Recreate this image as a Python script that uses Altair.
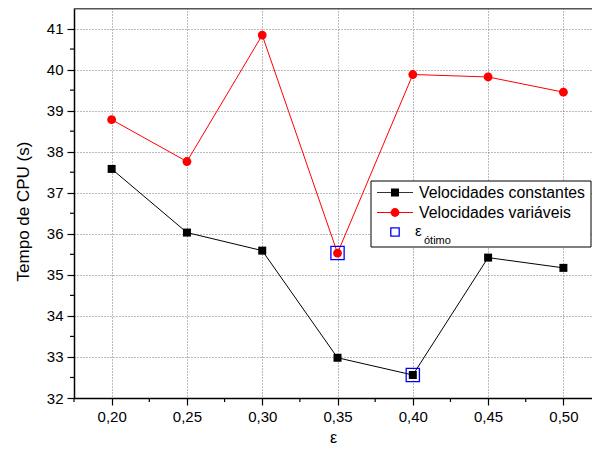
import altair as alt
import pandas as pd
import numpy as np

# ---- data ----
eps = [0.20, 0.25, 0.30, 0.35, 0.40, 0.45, 0.50]
const_vals = [37.58, 36.03, 35.59, 32.98, 32.56, 35.42, 35.17]
var_vals = [38.78, 37.76, 40.84, 35.53, 39.88, 39.82, 39.45]
eps_otimo = [0.35, 0.40]
tempo_otimo = [35.53, 32.56]
series = ["Velocidades constantes", "Velocidades variáveis"]
colors = ["#000000", "#ff0000"]
x_major_ticks = [0.20, 0.25, 0.30, 0.35, 0.40, 0.45, 0.50]
x_minor_ticks = [0.175, 0.225, 0.275, 0.325, 0.375, 0.425, 0.475]
y_major_ticks = [32, 33, 34, 35, 36, 37, 38, 39, 40, 41]
y_minor_ticks = [32.5, 33.5, 34.5, 35.5, 36.5, 37.5, 38.5, 39.5, 40.5]

FONT = "Liberation Sans"
W, H = 518, 390

df = pd.DataFrame({
    "eps": eps * 2,
    "tempo": const_vals + var_vals,
    "serie": [series[0]] * len(eps) + [series[1]] * len(eps),
})
df_opt = pd.DataFrame({"eps": eps_otimo, "tempo": tempo_otimo})

xs = alt.Scale(domain=[0.175, 0.519], nice=False, zero=False)
ys = alt.Scale(domain=[32, 41.5], nice=False, zero=False)

x_enc = alt.X(
    "eps:Q", scale=xs,
    axis=alt.Axis(
        values=x_major_ticks, title="ε",
        labelExpr="replace(format(datum.value, '.2f'), '.', ',')",
        tickSize=7, labelOverlap=False, labelFlush=False,
        labelPadding=4, titlePadding=5,
    ),
)
y_enc = alt.Y(
    "tempo:Q", scale=ys,
    axis=alt.Axis(
        values=y_major_ticks, title="Tempo de CPU (s)", format="d",
        tickSize=7, labelOverlap=False, labelFlush=False, labelPadding=4,
        titleX=-42, titleY=H / 2 + 8,
    ),
)

color = alt.Color("serie:N", scale=alt.Scale(domain=series, range=colors), legend=None)

base = alt.Chart(df)
lines = base.mark_line(strokeWidth=1).encode(x=x_enc, y=y_enc, color=color, detail="serie:N")
squares = base.transform_filter(alt.datum.serie == series[0]).mark_point(
    shape="square", filled=True, size=64, color="#000000", opacity=1
).encode(x="eps:Q", y="tempo:Q")
circles = base.transform_filter(alt.datum.serie == series[1]).mark_point(
    shape="circle", filled=True, size=78, color="#ff0000", opacity=1
).encode(x="eps:Q", y="tempo:Q")
opt = alt.Chart(df_opt).mark_point(
    shape="square", filled=False, size=175, color="#0000ff", strokeWidth=1.3, opacity=1
).encode(x="eps:Q", y="tempo:Q")

# ---- minor ticks and top frame line ----
xminor = alt.Chart(pd.DataFrame({"eps": x_minor_ticks})).mark_rule(
    color="black", strokeWidth=1.2).encode(
    x=alt.X("eps:Q", scale=xs), y=alt.value(H), y2=alt.value(H + 4))
yminor = alt.Chart(pd.DataFrame({"tempo": y_minor_ticks})).mark_rule(
    color="black", strokeWidth=1.2).encode(
    y=alt.Y("tempo:Q", scale=ys), x=alt.value(0), x2=alt.value(-4))

one = pd.DataFrame({"k": [0]})
lg = alt.Chart(one)
topline = lg.mark_rule(color="#555555", strokeWidth=1.5).encode(
    x=alt.value(0), x2=alt.value(W), y=alt.value(0.75))

# ---- legend (drawn as marks) ----
lx0, lx1, ly0, ly1 = 297, 517, 173, 239
r1, r2, r3 = 184.5, 204.5, 224
box = lg.mark_rect(fill="white", stroke="black", strokeWidth=1).encode(
    x=alt.value(lx0), x2=alt.value(lx1), y=alt.value(ly0), y2=alt.value(ly1))
l1 = lg.mark_rule(color="#333333", strokeWidth=1).encode(
    x=alt.value(303), x2=alt.value(339), y=alt.value(r1))
l2 = lg.mark_rule(color="#ff0000", strokeWidth=1).encode(
    x=alt.value(303), x2=alt.value(339), y=alt.value(r2))
p1 = lg.mark_point(shape="square", filled=True, size=64, color="black", opacity=1).encode(
    x=alt.value(321), y=alt.value(r1))
p2 = lg.mark_point(shape="circle", filled=True, size=78, color="#ff0000", opacity=1).encode(
    x=alt.value(321), y=alt.value(r2))
p3 = lg.mark_point(shape="square", filled=False, size=70, color="#0000ff", strokeWidth=1.3, opacity=1).encode(
    x=alt.value(321), y=alt.value(r3))
t1 = lg.mark_text(align="left", baseline="middle", fontSize=15.8, font=FONT).encode(
    x=alt.value(345), y=alt.value(r1), text=alt.value(series[0]))
t2 = lg.mark_text(align="left", baseline="middle", fontSize=15.8, font=FONT).encode(
    x=alt.value(345), y=alt.value(r2), text=alt.value(series[1]))
t3 = lg.mark_text(align="left", baseline="middle", fontSize=15, font=FONT).encode(
    x=alt.value(341), y=alt.value(r3 - 1), text=alt.value("ε"))
t3s = lg.mark_text(align="left", baseline="alphabetic", fontSize=11, font=FONT).encode(
    x=alt.value(350), y=alt.value(r3 + 12), text=alt.value("ótimo"))

chart = alt.layer(
    lines, xminor, yminor, topline, squares, circles, opt,
    box, l1, l2, p1, p2, p3, t1, t2, t3, t3s
).properties(
    width=W, height=H,
    autosize=alt.AutoSizeParams(type="none"),
    padding={"left": 66, "top": 0, "right": 0, "bottom": 46},
).configure_view(
    stroke=None
).configure_axis(
    labelFont=FONT, titleFont=FONT, labelFontSize=15, titleFontSize=17,
    titleFontWeight="normal", labelColor="black", titleColor="black",
    domainColor="black", domainWidth=1.5, tickColor="black", tickWidth=1.2,
    grid=True, gridColor="#777777", gridDash=[1, 2], gridWidth=1,
).configure_axisX(titleFontSize=16)

chart.save("out.html", embed_options={"renderer": "svg", "actions": False})
